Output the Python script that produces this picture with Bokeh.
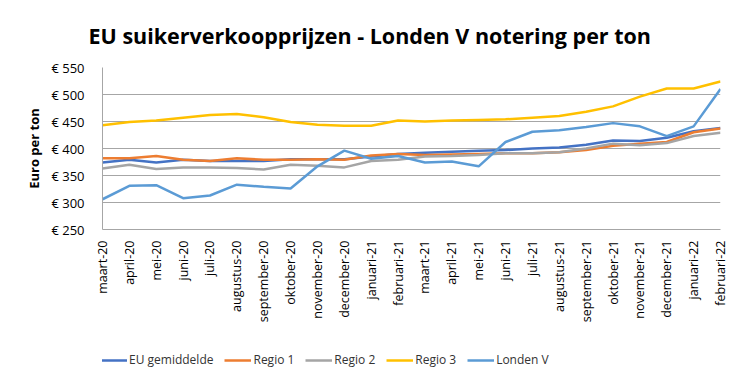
import math
from bokeh.plotting import figure
from bokeh.layouts import column
from bokeh.models import (Range1d, FixedTicker, PrintfTickFormatter, Legend, LegendItem)
from bokeh.embed import file_html
from bokeh.resources import INLINE

months = ["maart-20", "april-20", "mei-20", "juni-20", "juli-20", "augustus-20",
          "september-20", "oktober-20", "november-20", "december-20", "januari-21",
          "februari-21", "maart-21", "april-21", "mei-21", "juni-21", "juli-21",
          "augustus-21", "september-21", "oktober-21", "november-21", "december-21",
          "januari-22", "februari-22"]

eu_gemiddelde = [374, 379, 374, 379, 377, 377, 377, 380, 380, 380, 385, 390,
                 392, 394, 396, 397, 400, 402, 407, 415, 414, 420, 432, 438]
regio_1 = [382, 382, 386, 379, 377, 382, 379, 379, 380, 379, 387, 390,
           388, 389, 390, 391, 391, 393, 397, 405, 409, 412, 430, 437]
regio_2 = [363, 370, 362, 365, 365, 364, 361, 370, 368, 365, 377, 379,
           385, 386, 388, 391, 391, 393, 400, 409, 406, 410, 423, 429]
regio_3 = [443, 449, 452, 457, 462, 464, 458, 449, 444, 442, 442, 452,
           450, 452, 453, 454, 457, 460, 468, 478, 496, 511, 511, 524]
londen_v = [306, 331, 332, 308, 313, 333, 329, 326, 367, 396, 381, 386,
            374, 376, 367, 412, 431, 434, 440, 447, 441, 423, 441, 510]

series_names = ["EU gemiddelde", "Regio 1", "Regio 2", "Regio 3", "Londen V"]
series_values = [eu_gemiddelde, regio_1, regio_2, regio_3, londen_v]
series_colors = ["#4472C4", "#ED7D31", "#A5A5A5", "#FFC000", "#5B9BD5"]

y_ticks = [250, 300, 350, 400, 450, 500, 550]

FONT = "Open Sans"

x_idx = list(range(len(months)))

p = figure(width=732, height=330, output_backend="svg", toolbar_location=None,
           x_range=Range1d(0, len(months) - 1), y_range=Range1d(250, 550),
           title="EU suikerverkoopprijzen - Londen V notering per ton")

p.min_border_left = 102
p.min_border_right = 12
p.min_border_top = 67
p.min_border_bottom = 101
p.outline_line_color = None
p.background_fill_color = "white"
p.border_fill_color = "white"

p.title.text_font = FONT
p.title.text_font_size = "21.5px"
p.title.text_font_style = "bold"
p.title.text_color = "#000000"
p.title.align = "left"
p.title.offset = -14
p.title.standoff = 35

for name, vals, col in zip(series_names, series_values, series_colors):
    p.line(x_idx, vals, line_color=col, line_width=2.5)

# axes
p.xaxis.ticker = FixedTicker(ticks=x_idx)
p.xaxis.major_label_overrides = {i: m for i, m in enumerate(months)}
p.xaxis.major_label_orientation = math.pi / 2
p.xaxis.major_label_text_font = FONT
p.xaxis.major_label_text_font_size = "12.5px"
p.xaxis.major_label_text_color = "#000000"
p.xaxis.major_tick_line_color = None
p.xaxis.minor_tick_line_color = None
p.xaxis.axis_line_color = "#a6a6a6"
p.xaxis.major_label_standoff = 5

p.yaxis.ticker = FixedTicker(ticks=y_ticks)
p.yaxis.formatter = PrintfTickFormatter(format="€ %d")
p.yaxis.major_label_text_font = FONT
p.yaxis.major_label_text_font_size = "13px"
p.yaxis.major_label_text_color = "#000000"
p.yaxis.major_tick_line_color = None
p.yaxis.minor_tick_line_color = None
p.yaxis.axis_line_color = "#a6a6a6"
p.yaxis.major_label_standoff = 12
p.yaxis.axis_label = "Euro per ton"
p.yaxis.axis_label_text_font = FONT
p.yaxis.axis_label_text_font_size = "13px"
p.yaxis.axis_label_text_font_style = "bold"
p.yaxis.axis_label_text_color = "#000000"
p.yaxis.axis_label_standoff = 5

p.xgrid.grid_line_color = None
p.ygrid.grid_line_color = "#a6a6a6"
p.ygrid.grid_line_width = 1

# legend strip (separate figure under the chart; its y-range hides the lines)
lf = figure(width=732, height=50, output_backend="svg", toolbar_location=None,
            x_range=Range1d(0, len(months) - 1), y_range=Range1d(0, 1))
lf.min_border_left = 0
lf.min_border_right = 0
lf.min_border_top = 0
lf.min_border_bottom = 0
lf.axis.visible = False
lf.grid.visible = False
lf.outline_line_color = None
lf.border_fill_color = "white"
lf.background_fill_color = "white"

items = []
for name, vals, col in zip(series_names, series_values, series_colors):
    r = lf.line(x_idx, vals, line_color=col, line_width=2.5)
    items.append(LegendItem(label=name, renderers=[r]))

legend = Legend(items=items, orientation="horizontal", location=(-2, 12))
legend.border_line_color = None
legend.background_fill_alpha = 0
legend.glyph_width = 27
legend.glyph_height = 14
legend.label_standoff = 2
legend.spacing = 11
legend.padding = 0
legend.margin = 0
legend.label_text_font = FONT
legend.label_text_font_size = "12px"
legend.label_text_color = "#333333"
lf.add_layout(legend)

layout = column(p, lf, spacing=0)

open("out.html", "w").write(file_html(layout, INLINE))
